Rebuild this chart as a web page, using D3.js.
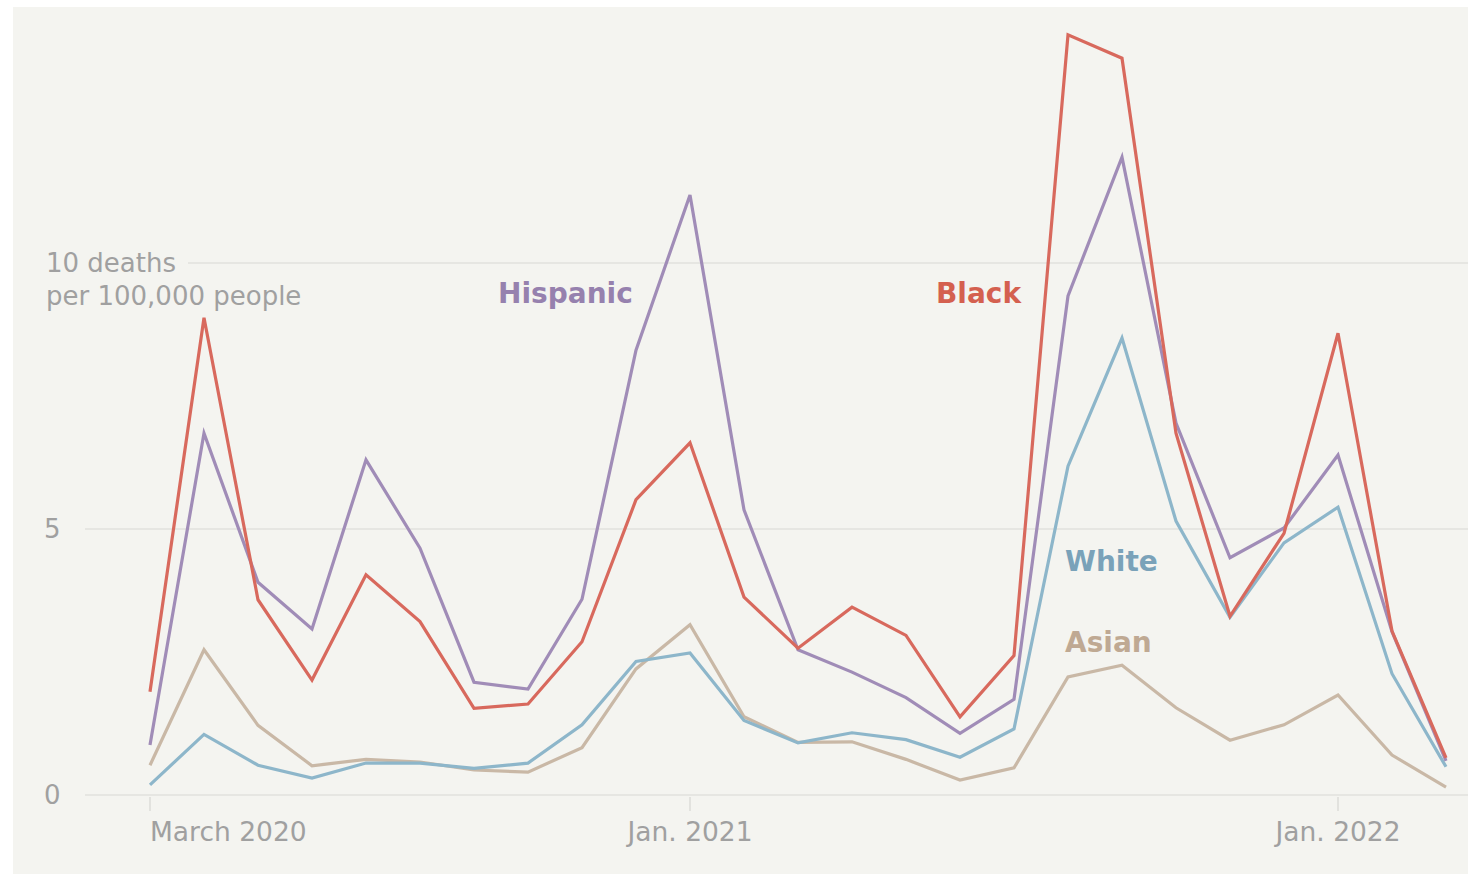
<!DOCTYPE html>
<html>
<head>
<meta charset="utf-8">
<script src="https://cdn.jsdelivr.net/npm/d3@7"></script>
<style>
  body { margin: 0; background: #ffffff; }
  svg { display: block; }
  .grid line { stroke: #e6e6e2; stroke-width: 2; }
  .tick-label { fill: #a0a0a0; font-family: "DejaVu Sans", sans-serif; font-size: 26px; }
  .x-label { font-size: 26.5px; }
  .series-label { font-family: "DejaVu Sans", sans-serif; font-size: 28px; font-weight: 700; }
</style>
</head>
<body>
<svg id="chart" width="1468" height="874"></svg>
<script>
// Monthly death rates per 100,000 people, March 2020 to March 2022
var months = ['2020-03', '2020-04', '2020-05', '2020-06', '2020-07', '2020-08', '2020-09',
    '2020-10', '2020-11', '2020-12', '2021-01', '2021-02', '2021-03', '2021-04', '2021-05',
    '2021-06', '2021-07', '2021-08', '2021-09', '2021-10', '2021-11', '2021-12', '2022-01',
    '2022-02', '2022-03'];

var black = [1.94, 8.97, 3.67, 2.16, 4.14, 3.26, 1.63, 1.71, 2.88, 5.55, 6.62, 3.72, 2.76,
    3.53, 3.0, 1.47, 2.62, 14.29, 13.85, 6.8, 3.36, 4.92, 8.68, 3.08, 0.7];
var hispanic = [0.94, 6.8, 4.0, 3.12, 6.3, 4.64, 2.12, 1.99, 3.68, 8.36, 11.28, 5.36, 2.73,
    2.31, 1.83, 1.16, 1.8, 9.38, 11.99, 6.99, 4.46, 5.02, 6.39, 3.07, 0.64];
var white = [0.19, 1.14, 0.56, 0.32, 0.6, 0.6, 0.5, 0.6, 1.32, 2.51, 2.67, 1.4, 0.98,
    1.17, 1.04, 0.71, 1.24, 6.18, 8.59, 5.15, 3.34, 4.74, 5.41, 2.28, 0.53];
var asian = [0.56, 2.73, 1.31, 0.55, 0.67, 0.62, 0.47, 0.43, 0.89, 2.37, 3.2, 1.47, 0.99,
    1.0, 0.67, 0.28, 0.51, 2.22, 2.44, 1.64, 1.03, 1.32, 1.88, 0.75, 0.15];

var yTicks = [0, 5, 10];
var xTicks = [
    {month: '2020-03', label: 'March 2020', anchor: 'start'},
    {month: '2021-01', label: 'Jan. 2021', anchor: 'middle'},
    {month: '2022-01', label: 'Jan. 2022', anchor: 'middle'}
];

var series = [
    {name: 'Asian', values: asian, color: '#c9b8a6', lx: 1065, ly: 652},
    {name: 'White', values: white, color: '#8db6ca', lx: 1065, ly: 571},
    {name: 'Hispanic', values: hispanic, color: '#a08cb7', lx: 498, ly: 303},
    {name: 'Black', values: black, color: '#d8695d', lx: 936, ly: 303}
];
var labelColors = {Asian: '#bfa993', White: '#7aa2b9', Hispanic: '#9681ae', Black: '#d4604f'};

var svg = d3.select('#chart');

// Panel background
svg.append('rect')
    .attr('x', 13).attr('y', 7)
    .attr('width', 1455).attr('height', 867)
    .attr('fill', '#f4f4f0');

var xScale = d3.scalePoint()
    .domain(months)
    .range([150, 1446]);

var yScale = d3.scaleLinear()
    .domain([0, 10])
    .range([795, 263]);

// Horizontal gridlines
var gridG = svg.append('g').attr('class', 'grid');
gridG.selectAll('line')
    .data(yTicks)
    .enter()
    .append('line')
    .attr('x1', function(d) { return d === 10 ? 188 : 85; })
    .attr('x2', 1468)
    .attr('y1', function(d) { return yScale(d); })
    .attr('y2', function(d) { return yScale(d); });

// Y labels
svg.selectAll('.y-label')
    .data(yTicks.filter(function(d) { return d !== 10; }))
    .enter()
    .append('text')
    .attr('class', 'tick-label')
    .attr('x', 44)
    .attr('y', function(d) { return yScale(d) + 9; })
    .text(function(d) { return d; });

svg.append('text')
    .attr('class', 'tick-label')
    .attr('x', 46)
    .attr('y', yScale(10) + 9)
    .text('10 deaths');
svg.append('text')
    .attr('class', 'tick-label')
    .attr('x', 46)
    .attr('y', yScale(10) + 42)
    .text('per 100,000 people');

// X ticks and labels
var xTickG = svg.selectAll('.x-tick')
    .data(xTicks)
    .enter()
    .append('g')
    .attr('class', 'x-tick')
    .attr('transform', function(d) { return 'translate(' + [xScale(d.month), 0] + ')'; });

xTickG.append('line')
    .attr('y1', yScale(0) + 2)
    .attr('y2', yScale(0) + 16)
    .attr('stroke', '#dcdcd8')
    .attr('stroke-width', 1.5);

xTickG.append('text')
    .attr('class', 'tick-label x-label')
    .attr('y', 841)
    .attr('text-anchor', function(d) { return d.anchor; })
    .text(function(d) { return d.label; });

// Lines
var line = d3.line()
    .x(function(d, i) { return xScale(months[i]); })
    .y(function(d) { return yScale(d); });

svg.selectAll('.series')
    .data(series)
    .enter()
    .append('path')
    .attr('class', 'series')
    .attr('fill', 'none')
    .attr('stroke', function(d) { return d.color; })
    .attr('stroke-width', 3.2)
    .attr('stroke-linejoin', 'miter')
    .attr('d', function(d) { return line(d.values); });

// Series labels
svg.selectAll('.series-label')
    .data(series)
    .enter()
    .append('text')
    .attr('class', 'series-label')
    .attr('x', function(d) { return d.lx; })
    .attr('y', function(d) { return d.ly; })
    .attr('fill', function(d) { return labelColors[d.name]; })
    .text(function(d) { return d.name; });
</script>
</body>
</html>
